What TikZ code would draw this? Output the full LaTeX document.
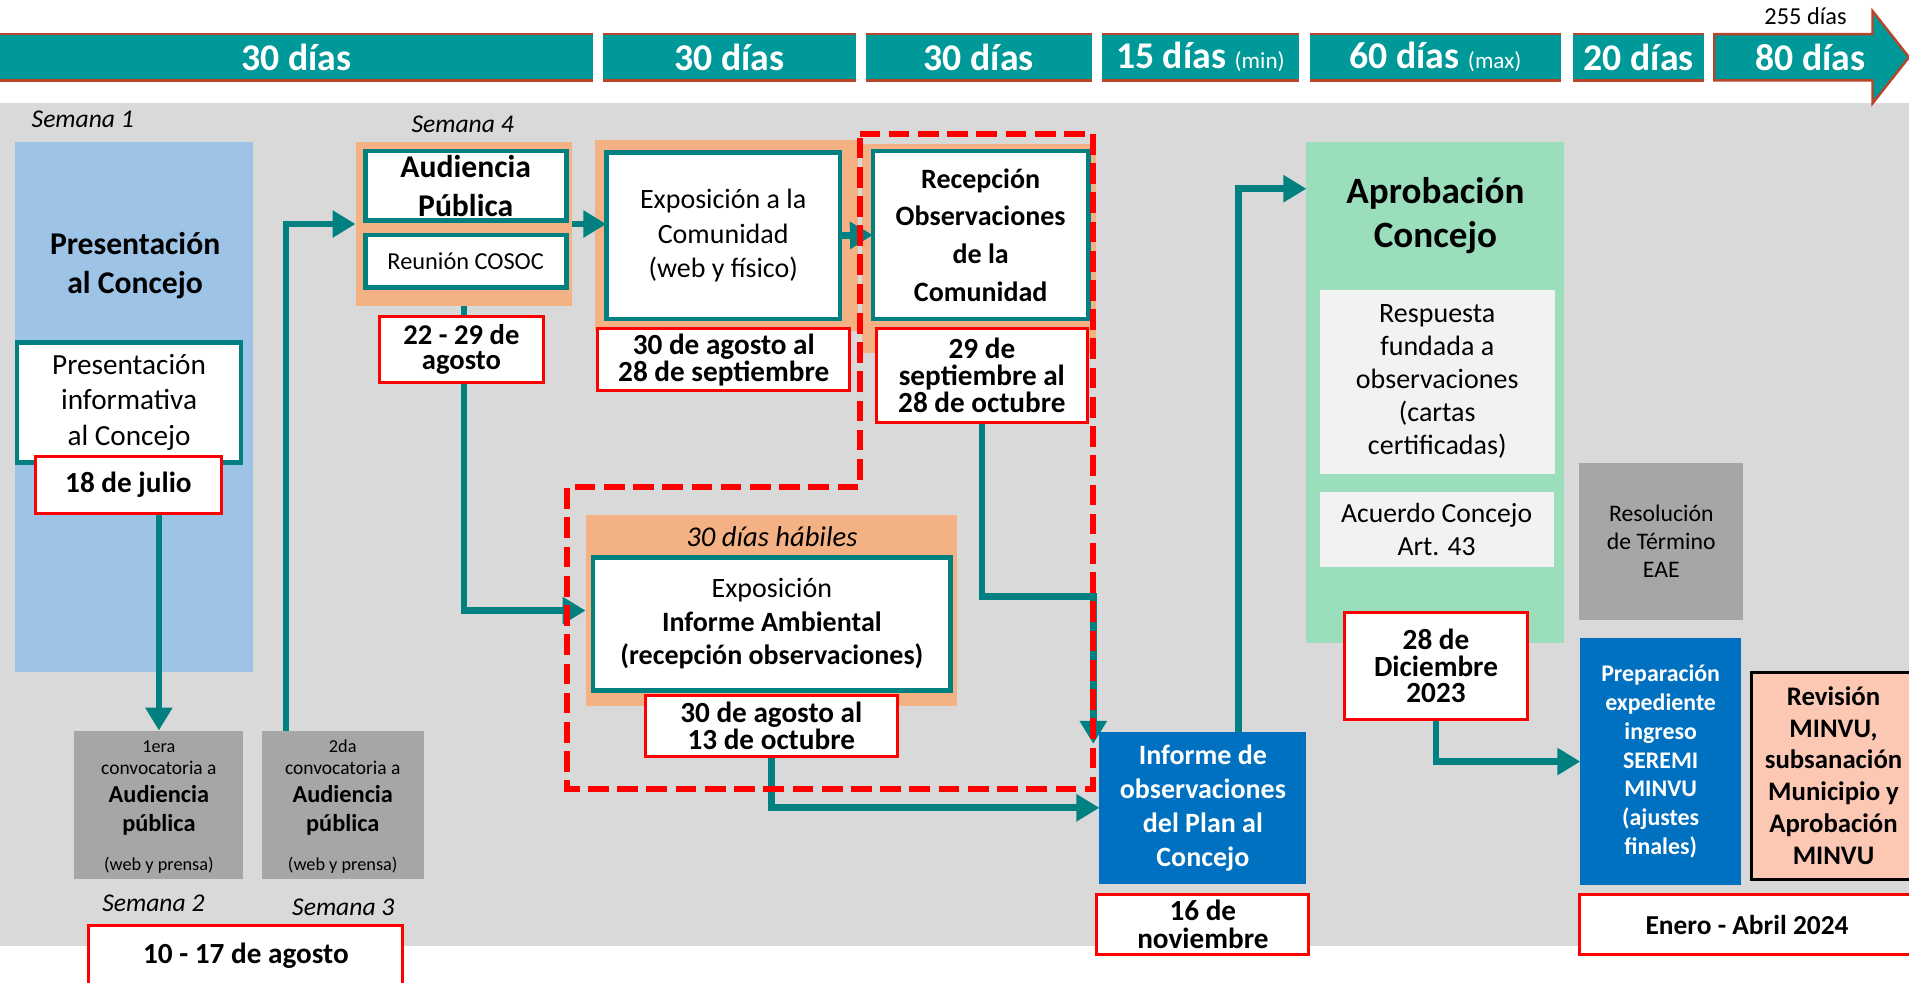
\documentclass[tikz,border=0pt]{standalone}
\usepackage{fontspec}
\setmainfont{Carlito}
\usetikzlibrary{arrows.meta,calc}
\newcommand\fsz[2]{\fontsize{\fpeval{#1*0.60875}pt}{\fpeval{#2*0.60875}pt}\selectfont}
\def\u{0.60875pt}
\definecolor{barteal}{HTML}{009999}
\definecolor{barred}{HTML}{B8442A}
\definecolor{bgc}{HTML}{D9D9D9}
\definecolor{blueL}{HTML}{9DC3E6}
\definecolor{orangeF}{HTML}{F4B183}
\definecolor{tealc}{HTML}{008080}
\definecolor{redc}{HTML}{FF0000}
\definecolor{greyB}{HTML}{A6A6A6}
\definecolor{greenA}{HTML}{9BDEBC}
\definecolor{lightG}{HTML}{F2F2F2}
\definecolor{blueD}{HTML}{0070C0}
\definecolor{pinkR}{HTML}{FCC8B4}
\pgfdeclarelayer{back}
\pgfdeclarelayer{mid}
\pgfsetlayers{back,mid,main}
\newcommand\bx[7]{\node[#1, minimum width={(#5-#3)*\u}, minimum height={(#6-#4)*\u}] (#2) at ({(#3+#5)/2},{(#4+#6)/2}) {#7};}
\tikzset{
  base/.style={inner sep=0pt, outer sep=0pt, align=center},
  seg/.style={base, fill=barteal, text=white, font={\fsz{31}{31}\bfseries}},
  bartop/.style={draw=barred, line width=0.9pt},
  barbot/.style={draw=barred, line width=1.8pt},
  grp/.style={base, fill=#1},
  wbox/.style={base, fill=white, draw=tealc, line width=2.4pt},
  dbox/.style={base, fill=white, draw=redc, line width=1.5pt, font={\fsz{24}{22}\bfseries}},
  gbox/.style={base, fill=greyB},
  lbox/.style={base, fill=lightG, font={\fsz{23}{27}}},
  bbox/.style={base, fill=blueD, text=white},
  lbl/.style={inner sep=0pt, font={\fsz{21}{21}\itshape}},
  conn/.style={draw=tealc, line width=3.35pt, -{Triangle[length=11.5pt, width=13pt]}},
  reddash/.style={draw=redc, line width=3.05pt, dash pattern=on 10.35pt off 4.26pt, line join=miter},
  tl/.style={anchor=base, inner sep=0pt}
}
\begin{document}
\begin{tikzpicture}[x=0.60875pt, y=-0.60875pt]
\useasboundingbox (0,0) rectangle (1568,807);

% ---------- background layer ----------
\begin{pgfonlayer}{back}
\fill[bgc] (0,85) rectangle (1568,777);
\bx{grp=blueL}{pres}{12}{117}{208}{552}{}
\bx{grp=orangeF}{audg}{292}{117}{470}{251}{}
\bx{grp=orangeF}{expg}{489}{115}{705}{272}{}
\bx{grp=orangeF}{recg}{708}{118}{900}{290}{}
\bx{grp=orangeF}{ambg}{481}{423}{786}{580}{}
\bx{grp=greenA}{apr}{1073}{117}{1285}{528}{}
\end{pgfonlayer}

% ---------- top bar ----------
\bx{seg}{s1}{0}{28}{487}{66}{30 días}
\bx{seg}{s2}{495}{28}{703}{66}{30 días}
\bx{seg}{s3}{711}{28}{897}{66}{30 días}
\bx{seg}{s4}{905}{28}{1067}{66}{15 días {\fsz{19}{19}\mdseries (min)}}
\bx{seg}{s5}{1076}{28}{1282}{66}{60 días {\fsz{19}{19}\mdseries (max)}}
\bx{seg}{s6}{1292}{28}{1400}{66}{20 días}
\foreach \n in {s1,s2,s3,s4,s5,s6} {
  \draw[bartop] (\n.north west) -- (\n.north east);
  \draw[barbot] (\n.south west) -- (\n.south east);
}
\filldraw[fill=barteal, draw=barred, line width=1.2pt, line join=miter]
  (1408,28) -- (1538,28) -- (1538,9) -- (1568,47) -- (1538,85) -- (1538,66) -- (1408,66) -- cycle;
\node[base, text=white, font={\fsz{31}{31}\bfseries}] (s7) at (1487,47) {80 días};
\node[base, font={\fsz{20}{20}}] (tot) at (1483,13) {255 días};

% ---------- labels ----------
\node[lbl] (sem1) at (68,98) {Semana 1};
\node[lbl] (sem4) at (380,102) {Semana 4};
\node[lbl] (sem2) at (126,742) {Semana 2};
\node[lbl] (sem3) at (282,745) {Semana 3};

% ---------- column 1 ----------
\node[base, font={\fsz{26}{32}\bfseries}] (prest) at (111,218) {Presentación\\al Concejo};
\bx{wbox, font={\fsz{24}{29}}}{presinf}{14}{281}{198}{380}{Presentación\\informativa\\al Concejo}
\bx{dbox, font={\fsz{24}{22}\bfseries}}{d1}{29}{375}{182}{422}{18 de julio}

\bx{gbox}{g1}{61}{600}{200}{722}{}
\node[tl, font={\fsz{15}{15}}] (g1a) at (130.5,618) {1era};
\node[tl, font={\fsz{16}{16}}] (g1b) at (130.5,636) {convocatoria a};
\node[tl, font={\fsz{20}{20}\bfseries}] (g1c) at (130.5,659) {Audiencia};
\node[tl, font={\fsz{20}{20}\bfseries}] (g1d) at (130.5,683) {pública};
\node[tl, font={\fsz{15}{15}}] (g1e) at (130.5,715) {(web y prensa)};

\bx{gbox}{g2}{215}{600}{348}{722}{}
\node[tl, font={\fsz{15}{15}}] (g2a) at (281.5,618) {2da};
\node[tl, font={\fsz{16}{16}}] (g2b) at (281.5,636) {convocatoria a};
\node[tl, font={\fsz{20}{20}\bfseries}] (g2c) at (281.5,659) {Audiencia};
\node[tl, font={\fsz{20}{20}\bfseries}] (g2d) at (281.5,683) {pública};
\node[tl, font={\fsz{15}{15}}] (g2e) at (281.5,715) {(web y prensa)};

\bx{dbox, font={\fsz{24}{22}\bfseries}}{d9}{73}{760}{331}{810}{10 - 17 de agosto}

% ---------- Audiencia ----------
\bx{wbox, font={\fsz{26}{32}\bfseries}}{audt}{300}{124}{465}{181}{Audiencia\\Pública}
\bx{wbox, font={\fsz{20}{20}}}{cosoc}{300}{193}{465}{236}{Reunión COSOC}
\bx{dbox, font={\fsz{23.5}{21}\bfseries}}{d2}{312}{260}{446}{314}{22 - 29 de\\agosto}

% ---------- Exposición Comunidad ----------
\bx{wbox, font={\fsz{23}{28}}}{expo}{498}{125}{690}{262}{Exposición a la\\Comunidad\\(web y físico)}
\bx{dbox}{d3}{491}{270}{698}{321}{30 de agosto al\\28 de septiembre}

% ---------- Recepción ----------
\bx{wbox, font={\fsz{23}{31}\bfseries}}{rec}{717}{124}{894}{262}{Recepción\\Observaciones\\de la\\Comunidad}
\bx{dbox}{d4}{720}{270}{893}{347}{29 de\\septiembre al\\28 de octubre}

% ---------- Informe Ambiental ----------
\node[base, font={\fsz{23.5}{23}\itshape}] (hab) at (634,441) {30 días hábiles};
\bx{wbox, font={\fsz{23}{27.5}}}{amb}{487}{458}{781}{567}{Exposición\\\textbf{Informe Ambiental}\\\textbf{(recepción observaciones)}}
\bx{dbox}{d5}{530}{571}{737}{621}{30 de agosto al\\13 de octubre}

% ---------- Informe de observaciones ----------
\bx{bbox, font={\fsz{23}{28}\bfseries}}{inf}{903}{601}{1073}{726}{Informe de\\observaciones\\del Plan al\\Concejo}
\bx{dbox, font={\fsz{24}{23}\bfseries}}{d6}{901}{735}{1075}{784}{16 de\\noviembre}

% ---------- Aprobación ----------
\node[base, font={\fsz{30.5}{36}\bfseries}] (aprt) at (1179,177) {Aprobación\\Concejo};
\bx{lbox}{resp}{1084}{238}{1277}{389}{Respuesta\\fundada a\\observaciones\\(cartas\\certificadas)}
\bx{lbox, font={\fsz{22.7}{27}}}{acu}{1084}{404}{1276}{466}{Acuerdo Concejo\\Art. 43}
\bx{dbox, font={\fsz{24}{21.5}\bfseries}}{d7}{1104}{503}{1255}{591}{28 de\\Diciembre\\2023}

% ---------- right column ----------
\bx{gbox, font={\fsz{19.5}{23}}}{eae}{1297}{380}{1432}{509}{Resolución\\de Término\\EAE}
\bx{bbox, font={\fsz{19.6}{23.7}\bfseries}}{prep}{1298}{524}{1430}{727}{Preparación\\expediente\\ingreso\\SEREMI\\MINVU\\(ajustes\\finales)}
\bx{base, fill=pinkR, draw=black, line width=1.5pt, font={\fsz{22}{26.2}\bfseries}}{minvu}{1439}{552}{1573}{722}{Revisión\\MINVU,\\subsanación\\Municipio y\\Aprobación\\MINVU}
\bx{dbox, font={\fsz{22.5}{21}\bfseries}}{d8}{1297}{735}{1573}{784}{Enero - Abril 2024}

% ---------- connectors ----------
\coordinate (k1) at (898,490);
\coordinate (k2) at (235,184);
\coordinate (k3) at (1017,155);
\begin{pgfonlayer}{mid}
\draw[conn] (d1.south -| g1.north) -- (g1.north);
\draw[conn] (g2.north -| k2) |- (audg.west);
\draw[conn] (audg.east) -- (audg.east -| expo.west);
\draw[conn] (expo.east) -- (rec.west);
\draw[conn] (audg.south) |- (ambg.west);
\draw[conn] (d4.south) |- (k1) -- ($(k1 |- inf.north)+(0,10)$);
\draw[conn] (d5.south) |- (inf.west);
\draw[conn] (inf.north -| k3) -- (k3) -- (k3 -| apr.west);
\draw[conn] (d7.south) |- (prep.west);
\end{pgfonlayer}

% ---------- red dashed frame ----------
\draw[reddash] (706,110) -- (898,110) -- (898,648) -- (466,648) -- (466,400) -- (706,400) -- cycle;
\end{tikzpicture}
\end{document}
